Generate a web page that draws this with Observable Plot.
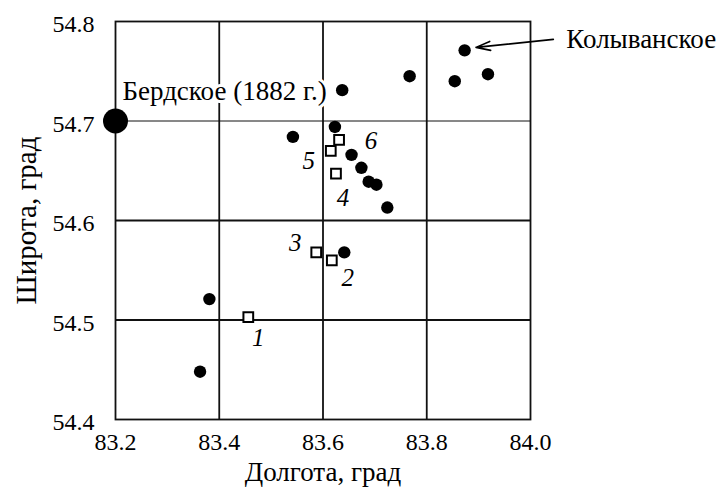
<!DOCTYPE html>
<html>
<head>
<meta charset="utf-8">
<script src="https://cdn.jsdelivr.net/npm/d3@7"></script>
<script src="https://cdn.jsdelivr.net/npm/@observablehq/plot@0.6"></script>
<style>
  html, body { margin: 0; padding: 0; background: #fff; }
  #chart svg { display: block; }
  #chart svg, #chart svg text, #chart svg g { font-family: "Liberation Serif", "Times New Roman", serif !important; }
</style>
</head>
<body>
<div id="chart"></div>
<script>
// ---- data ----
const xTicks = [83.2, 83.4, 83.6, 83.8, 84.0];
const yTicks = [54.4, 54.5, 54.6, 54.7, 54.8];
const xLabel = "Долгота, град";
const yLabel = "Широта, град";

// filled circles (settlements)
const dotLon = [83.637, 83.767, 83.623, 83.542, 83.655, 83.674, 83.688, 83.703, 83.724,
                83.873, 83.854, 83.918, 83.641, 83.381, 83.363];
const dotLat = [54.731, 54.745, 54.694, 54.684, 54.666, 54.653, 54.639, 54.636, 54.613,
                54.771, 54.740, 54.747, 54.568, 54.521, 54.448];

// open squares (numbered sites)
const sqLon = [83.456, 83.617, 83.587, 83.625, 83.615, 83.631];
const sqLat = [54.503, 54.560, 54.568, 54.647, 54.670, 54.681];
const sqName = ["1", "2", "3", "4", "5", "6"];

// Berdskoe (big circle)
const berdLon = [83.2];
const berdLat = [54.7];
const berdName = ["Бердское (1882 г.)"];

// Kolyvanskoe annotation
const kolName = "Колыванское";
const kolLon = 83.873, kolLat = 54.771;

// ---- build ----
const dots = dotLon.map((x, i) => ({x, y: dotLat[i]}));
const squares = sqLon.map((x, i) => ({x, y: sqLat[i], name: sqName[i]}));
const berd = berdLon.map((x, i) => ({x, y: berdLat[i], name: berdName[i]}));

// label offsets (px) for square numbers
const off = {"1": [10, 21], "2": [16, 18], "3": [-21, -9], "4": [7, 24], "5": [-22, 10], "6": [32, 1]};

const font = "Liberation Serif, Times New Roman, serif";

const chart = Plot.plot({
  width: 719,
  height: 488,
  marginLeft: 115,
  marginRight: 189,
  marginTop: 21,
  marginBottom: 69,
  style: {fontFamily: font, background: "#fff", color: "#000", overflow: "visible"},
  x: {domain: [83.2, 84.0], label: null},
  y: {domain: [54.4, 54.8], label: null},
  marks: [
    Plot.ruleX(xTicks.slice(1, -1), {stroke: "#111", strokeWidth: 1.8}),
    Plot.ruleY([54.5, 54.6], {stroke: "#111", strokeWidth: 1.8}),
    Plot.ruleY([54.7], {stroke: "#111", strokeWidth: 1}),
    Plot.frame({stroke: "#111", strokeWidth: 1.8}),
    Plot.axisX({ticks: xTicks, tickFormat: d => d.toFixed(1), tickSize: 0, tickPadding: 13, fontSize: 24, label: null}),
    Plot.axisY({ticks: yTicks, tickFormat: d => d.toFixed(1), tickSize: 0, tickPadding: 21, fontSize: 24, label: null, dy: 3}),
    Plot.text(berd, {x: "x", y: "y", text: "name", dx: 7, dy: -30, textAnchor: "start", fontSize: 27,
      fill: "#000", stroke: "#fff", strokeWidth: 6, paintOrder: "stroke"}),
    Plot.dot(dots, {x: "x", y: "y", r: 6.2, fill: "#000", stroke: "none"}),
    Plot.dot(berd, {x: "x", y: "y", r: 12.5, fill: "#000", stroke: "none"}),
    Plot.dot(squares, {x: "x", y: "y", symbol: "square", r: 5.5, fill: "#fff", stroke: "#000", strokeWidth: 2}),
    ...squares.map(s => Plot.text([s], {x: "x", y: "y", text: "name", dx: off[s.name][0], dy: off[s.name][1],
      fontSize: 25, fontStyle: "italic", fill: "#000"})),
    Plot.arrow([{x1: 84.044, y1: 54.782, x2: kolLon + 0.022, y2: kolLat + 0.003}],
      {x1: "x1", y1: "y1", x2: "x2", y2: "y2", stroke: "#000", strokeWidth: 1.6, headLength: 14, headAngle: 35, bend: 0}),
    Plot.text([{x: 84.044, y: 54.782}], {x: "x", y: "y", text: () => kolName, dx: 13, dy: 0, textAnchor: "start", fontSize: 27, fill: "#000"}),
    Plot.text([{x: 83.6, y: 54.4}], {x: "x", y: "y", text: () => xLabel, dy: 53, fontSize: 27, fill: "#000"}),
    Plot.text([{x: 83.2, y: 54.6}], {x: "x", y: "y", text: () => yLabel, dx: -89, rotate: -90, fontSize: 29, fill: "#000"})
  ]
});
document.getElementById("chart").appendChild(chart);
</script>
</body>
</html>
